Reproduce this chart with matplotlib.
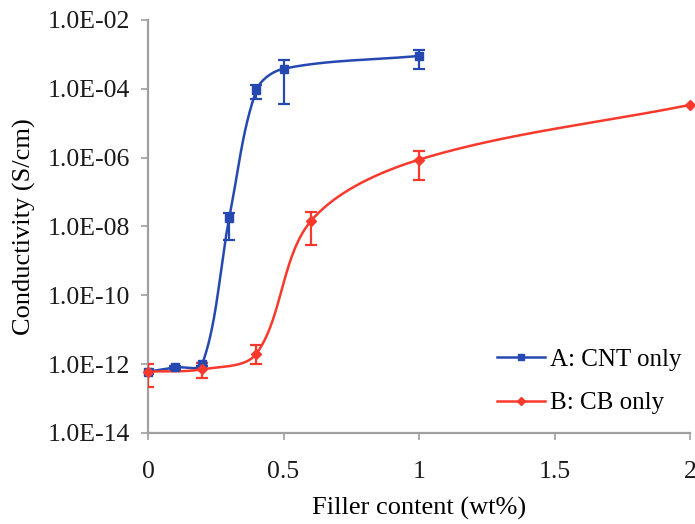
import numpy as np
import matplotlib

matplotlib.use("Agg")
import matplotlib.pyplot as plt
from matplotlib.ticker import FixedLocator, FuncFormatter

# values
cnt_x = [0.0, 0.1, 0.2, 0.3, 0.4, 0.5, 1.0]
cnt_y = [6e-13, 8e-13, 1e-12, 1.8e-8, 9e-5, 3.8e-4, 9e-4]
cnt_lo = [5e-13, 7e-13, 9e-13, 4e-9, 5e-5, 3.6e-5, 3.8e-4]
cnt_hi = [7e-13, 9e-13, 1.1e-12, 2.5e-8, 1.3e-4, 7e-4, 1.3e-3]

cb_x = [0.0, 0.2, 0.4, 0.6, 1.0, 2.0]
cb_y = [6e-13, 7e-13, 2e-12, 1.4e-8, 8.7e-7, 3.4e-5]
cb_lo = [2.2e-13, 4e-13, 1e-12, 2.8e-9, 2.2e-7, 3.4e-5]
cb_hi = [1e-12, 1.1e-12, 3.5e-12, 2.6e-8, 1.5e-6, 3.4e-5]

W_PX, H_PX = 542.0, 413.0  # axes size on screen, used for the smoothing


def smooth(xs, ys, n=60):
    """Spreadsheet-style smoothed line: Bezier segments with chord-weighted tangents."""
    px = np.asarray(xs, float) / 2.0 * W_PX
    py = (np.log10(ys) + 14) / 12.0 * H_PX
    P = np.column_stack([px, py])
    Q = np.vstack([P[0], P, P[-1]])
    t = np.linspace(0, 1, n)[:, None]
    out = []
    for i in range(1, len(Q) - 2):
        p0, p1, p2, p3 = Q[i - 1], Q[i], Q[i + 1], Q[i + 2]
        d01 = np.linalg.norm(p1 - p0)
        d12 = np.linalg.norm(p2 - p1)
        d23 = np.linalg.norm(p3 - p2)
        c1 = p1 + (p2 - p0) * d12 / max(d01 + d12, 1e-9) / 3
        c2 = p2 - (p3 - p1) * d12 / max(d12 + d23, 1e-9) / 3
        seg = ((1 - t) ** 3 * p1 + 3 * (1 - t) ** 2 * t * c1
               + 3 * (1 - t) * t ** 2 * c2 + t ** 3 * p2)
        out.append(seg)
    out = np.vstack(out)
    return out[:, 0] / W_PX * 2.0, 10 ** (out[:, 1] / H_PX * 12.0 - 14)


plt.rcParams["font.family"] = "Liberation Serif"
fig = plt.figure(figsize=(6.95, 5.24), dpi=100)
ax = fig.add_axes([0.213, 0.174, 0.780, 0.788])

series = [
    ("A: CNT only", cnt_x, cnt_y, cnt_lo, cnt_hi, "#2549b0", "s", 6),
    ("B: CB only", cb_x, cb_y, cb_lo, cb_hi, "#f8392c", "D", 5.5),
]
for label, xs, ys, lo, hi, color, marker, ms in series:
    sx, sy = smooth(xs, ys)
    ys_a, lo_a, hi_a = np.array(ys), np.array(lo), np.array(hi)
    has_err = (hi_a - lo_a) > 0
    ax.errorbar(np.array(xs)[has_err], ys_a[has_err],
                yerr=[(ys_a - lo_a)[has_err], (hi_a - ys_a)[has_err]],
                fmt="none", ecolor=color, elinewidth=1.6,
                capsize=4, capthick=1.6, zorder=3)
    ax.plot(sx, sy, color=color, lw=1.8, zorder=2)
    ax.plot(xs, ys, ls="none", marker=marker, ms=ms, color=color, zorder=4,
            clip_on=False)
    ax.plot([], [], color=color, lw=1.8, marker=marker, ms=4.5, label=label)

ax.set_yscale("log")
ax.set_xlim(0, 2)
ax.set_ylim(1e-14, 1e-2)
ax.yaxis.set_major_locator(FixedLocator([10.0 ** e for e in range(-14, -1, 2)]))
ax.yaxis.set_minor_locator(FixedLocator([]))
ax.yaxis.set_major_formatter(FuncFormatter(lambda v, p: f"{v:.1E}"))
ax.set_xticks([0, 0.5, 1, 1.5, 2])
ax.set_xticklabels(["0", "0.5", "1", "1.5", "2"])

for side in ("top", "right"):
    ax.spines[side].set_visible(False)
for side in ("left", "bottom"):
    ax.spines[side].set_color("#a0a0a0")
    ax.spines[side].set_linewidth(1.6)
ax.tick_params(axis="both", colors="#a0a0a0", labelcolor="#1a1a1a", labelsize=18.5,
               length=5, width=1.2, direction="out")
ax.tick_params(axis="x", pad=15)
ax.tick_params(axis="y", pad=8)

ax.set_xlabel("Filler content (wt%)", fontsize=19, labelpad=10)
ax.set_ylabel("Conductivity (S/cm)", fontsize=19, labelpad=8)

ax.legend(loc="lower right", bbox_to_anchor=(1.025, -0.01), frameon=False,
          fontsize=18, handlelength=1.9, handletextpad=0.2, labelspacing=0.85)

fig.savefig("out.png", dpi=100)
